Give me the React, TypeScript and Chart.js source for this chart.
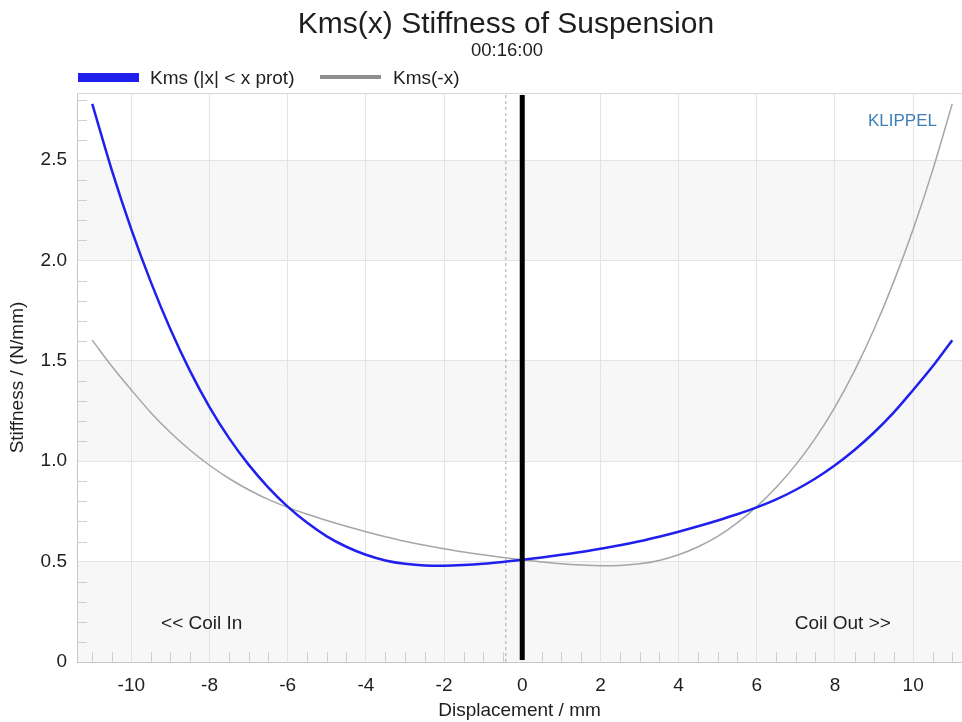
import { useEffect, useRef } from "react";
import { Chart, registerables } from "chart.js";

Chart.register(...registerables);

const FONT = "'Liberation Sans', Arial, Helvetica, sans-serif";

// Displacement samples (mm)
const displacementMm = [
  -11, -10.5, -10, -9.5, -9, -8.5, -8, -7.5, -7, -6.5, -6, -5.5, -5, -4.5, -4,
  -3.5, -3, -2.5, -2, -1.5, -1, -0.5, 0, 0.5, 1, 1.5, 2, 2.5, 3, 3.5, 4, 4.5,
  5, 5.5, 6, 6.5, 7, 7.5, 8, 8.5, 9, 9.5, 10, 10.5, 11,
];

// Kms(x) stiffness, N/mm
const kmsStiffness = [
  2.78, 2.45, 2.155, 1.892, 1.657, 1.45, 1.27, 1.115, 0.983, 0.87, 0.774,
  0.693, 0.626, 0.574, 0.534, 0.506, 0.489, 0.481, 0.48, 0.483, 0.489, 0.498,
  0.509, 0.521, 0.534, 0.548, 0.564, 0.581, 0.601, 0.624, 0.649, 0.676, 0.705,
  0.736, 0.77, 0.81, 0.858, 0.914, 0.98, 1.056, 1.143, 1.242, 1.355, 1.473,
  1.603,
];

// Kms(-x) stiffness, N/mm
const kmsMirrored = [
  1.603, 1.473, 1.355, 1.242, 1.143, 1.056, 0.98, 0.914, 0.858, 0.81, 0.77,
  0.736, 0.705, 0.676, 0.649, 0.624, 0.601, 0.581, 0.564, 0.548, 0.534, 0.521,
  0.509, 0.498, 0.489, 0.483, 0.48, 0.481, 0.489, 0.506, 0.534, 0.574, 0.626,
  0.693, 0.774, 0.87, 0.983, 1.115, 1.27, 1.45, 1.657, 1.892, 2.155, 2.45,
  2.78,
];

const seriesLabels = ["Kms (|x| < x prot)", "Kms(-x)"];
const xTickValues = [-10, -8, -6, -4, -2, 0, 2, 4, 6, 8, 10];
const yTickValues = [0, 0.5, 1, 1.5, 2, 2.5];
const yBandRanges = [
  [0, 0.5],
  [1, 1.5],
  [2, 2.5],
];
const xMinorTicks = [
  -11, -10.5, -9.5, -9, -8.5, -7.5, -7, -6.5, -5.5, -5, -4.5, -3.5, -3, -2.5,
  -1.5, -1, -0.5, 0.5, 1, 1.5, 2.5, 3, 3.5, 4.5, 5, 5.5, 6.5, 7, 7.5, 8.5, 9,
  9.5, 10.5, 11,
];
const yMinorTicks = [
  0.1, 0.2, 0.3, 0.4, 0.6, 0.7, 0.8, 0.9, 1.1, 1.2, 1.3, 1.4, 1.6, 1.7, 1.8,
  1.9, 2.1, 2.2, 2.3, 2.4, 2.6, 2.7, 2.8,
];
const xProtMarker = -0.42;
const coilInLabel = { text: "<< Coil In", x: -8.2, y: 0.2 };
const coilOutLabel = { text: "Coil Out >>", x: 8.2, y: 0.2 };

const X_MIN = -11.39;
const X_MAX = 11.25;
const Y_MIN = 0;
const Y_MAX = 2.834;

const BLUE = "#2020ee";
const GRAY = "#a6a6a6";
const TEXT = "#1e1e1e";

const decorations = {
  id: "decorations",
  beforeDraw(chart: any) {
    const { ctx, chartArea, scales } = chart;
    const { left, right } = chartArea;
    const y = scales.y;
    ctx.save();
    ctx.fillStyle = "#ffffff";
    ctx.fillRect(0, 0, chart.width, chart.height);
    ctx.fillStyle = "#f7f7f7";
    for (const [a, b] of yBandRanges) {
      const y1 = y.getPixelForValue(b);
      const y0 = y.getPixelForValue(a);
      ctx.fillRect(left, y1, right - left, y0 - y1);
    }
    ctx.restore();
  },
  beforeDatasetsDraw(chart: any) {
    const { ctx, chartArea, scales } = chart;
    const { left, right, top, bottom } = chartArea;
    ctx.save();
    ctx.strokeStyle = "#cfcfcf";
    ctx.lineWidth = 1;
    ctx.beginPath();
    for (const v of yMinorTicks) {
      const py = Math.round(scales.y.getPixelForValue(v)) + 0.5;
      ctx.moveTo(left, py);
      ctx.lineTo(left + 10, py);
    }
    for (const v of xMinorTicks) {
      const px = Math.round(scales.x.getPixelForValue(v)) + 0.5;
      ctx.moveTo(px, bottom);
      ctx.lineTo(px, bottom - 10);
    }
    ctx.stroke();
    ctx.strokeStyle = "#d6d6d6";
    ctx.beginPath();
    ctx.moveTo(left, top + 0.5);
    ctx.lineTo(right, top + 0.5);
    ctx.stroke();
    ctx.restore();
  },
  afterDraw(chart: any) {
    const { ctx, chartArea, scales } = chart;
    ctx.save();
    ctx.fillStyle = TEXT;
    ctx.textAlign = "center";
    ctx.textBaseline = "alphabetic";
    ctx.font = `30px ${FONT}`;
    ctx.fillText("Kms(x) Stiffness of Suspension", 506, 33);
    ctx.font = `18.5px ${FONT}`;
    ctx.fillText("00:16:00", 507, 56);

    // legend
    const datasets = chart.data.datasets;
    ctx.textAlign = "left";
    ctx.font = `19px ${FONT}`;
    ctx.fillStyle = datasets[0].borderColor;
    ctx.fillRect(78, 73, 61, 9);
    ctx.fillStyle = TEXT;
    ctx.fillText(datasets[0].label, 150, 84);
    ctx.fillStyle = "#8f8f8f";
    ctx.fillRect(320, 75, 61, 4);
    ctx.fillStyle = TEXT;
    ctx.fillText(datasets[1].label, 393, 84);

    // annotations
    ctx.textAlign = "center";
    ctx.font = `19px ${FONT}`;
    for (const a of [coilInLabel, coilOutLabel]) {
      ctx.fillText(
        a.text,
        scales.x.getPixelForValue(a.x),
        scales.y.getPixelForValue(a.y) + 7
      );
    }
    ctx.textAlign = "right";
    ctx.font = `17px ${FONT}`;
    ctx.fillStyle = "#3f7fb8";
    ctx.fillText("KLIPPEL", chartArea.right - 25, 126);
    ctx.restore();
  },
};

export default function App() {
  const canvasRef = useRef<HTMLCanvasElement | null>(null);

  useEffect(() => {
    const canvas = canvasRef.current;
    if (!canvas) return;

    const toPoints = (ys: number[]) =>
      displacementMm.map((x, i) => ({ x, y: ys[i] }));

    const chart = new Chart(canvas, {
      type: "line",
      data: {
        datasets: [
          {
            label: seriesLabels[0],
            data: toPoints(kmsStiffness),
            borderColor: BLUE,
            borderWidth: 2.5,
            pointRadius: 0,
            cubicInterpolationMode: "monotone",
            order: 2,
          },
          {
            label: seriesLabels[1],
            data: toPoints(kmsMirrored),
            borderColor: GRAY,
            borderWidth: 1.5,
            pointRadius: 0,
            cubicInterpolationMode: "monotone",
            order: 3,
          },
          {
            label: "x = 0",
            data: [
              { x: 0, y: Y_MIN + 0.01 },
              { x: 0, y: Y_MAX - 0.01 },
            ],
            borderColor: "#000000",
            borderWidth: 5,
            borderCapStyle: "butt",
            pointRadius: 0,
            tension: 0,
            order: 0,
          },
          {
            label: "x prot",
            data: [
              { x: xProtMarker, y: Y_MIN },
              { x: xProtMarker, y: Y_MAX },
            ],
            borderColor: "#a8a8a8",
            borderWidth: 1,
            borderDash: [3, 3],
            pointRadius: 0,
            tension: 0,
            order: 1,
          },
        ],
      },
      options: {
        animation: false,
        responsive: false,
        maintainAspectRatio: false,
        layout: { padding: { top: 93, left: 0, right: 0, bottom: 0 } },
        plugins: {
          legend: { display: false },
          title: { display: false },
          tooltip: { enabled: false },
        },
        scales: {
          x: {
            type: "linear",
            min: X_MIN,
            max: X_MAX,
            afterBuildTicks: (s: any) => {
              s.ticks = xTickValues.map((value) => ({ value }));
            },
            afterFit: (s: any) => {
              s.height = 60;
            },
            grid: { color: "#e3e3e3", lineWidth: 1, drawTicks: false },
            border: { color: "#c6c6c6", width: 1 },
            ticks: {
              padding: 12,
              color: TEXT,
              font: { family: FONT, size: 19 },
              maxRotation: 0,
              callback: (v: any) => String(v),
            },
            title: {
              display: true,
              text: "Displacement / mm",
              color: TEXT,
              font: { family: FONT, size: 19 },
              padding: { top: 0, bottom: 0 },
            },
          },
          y: {
            type: "linear",
            min: Y_MIN,
            max: Y_MAX,
            afterBuildTicks: (s: any) => {
              s.ticks = yTickValues.map((value) => ({ value }));
            },
            afterFit: (s: any) => {
              s.width = 77;
            },
            grid: { color: "#e3e3e3", lineWidth: 1, drawTicks: false },
            border: { color: "#c6c6c6", width: 1 },
            ticks: {
              padding: 10,
              color: TEXT,
              font: { family: FONT, size: 19 },
              callback: (v: any) => (Number(v) === 0 ? "0" : Number(v).toFixed(1)),
            },
            title: {
              display: true,
              text: "Stiffness / (N/mm)",
              color: TEXT,
              font: { family: FONT, size: 19 },
              padding: { top: 6, bottom: 0 },
            },
          },
        },
      },
      plugins: [decorations],
    });

    return () => chart.destroy();
  }, []);

  return (
    <div
      style={{
        position: "fixed",
        left: 0,
        top: 0,
        width: 962,
        height: 722,
        background: "#ffffff",
      }}
    >
      <canvas ref={canvasRef} width={962} height={722} />
    </div>
  );
}
